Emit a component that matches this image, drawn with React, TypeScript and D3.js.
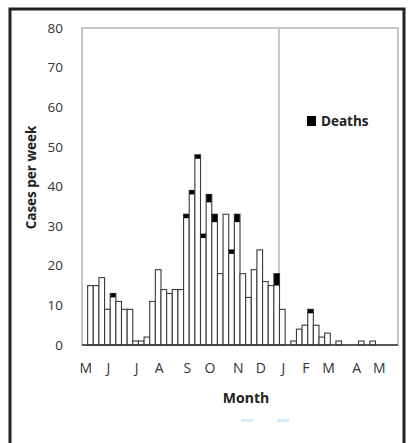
import React from "react";
import * as d3 from "d3";

// weekly totals (cases per week), index 0 = first week of May
const totals = [
  0, 15, 15, 17, 9, 13, 11, 9, 9, 1, 1, 2, 11, 19, 14, 13, 14, 14, 33, 39, 48,
  28, 38, 33, 18, 33, 24, 33, 18, 12, 19, 24, 16, 15, 18, 9, 0, 1, 4, 5, 9, 5,
  2, 3, 0, 1, 0, 0, 0, 1, 0, 1, 0, 0, 0, 0,
];
const deaths = [
  0, 0, 0, 0, 0, 1, 0, 0, 0, 0, 0, 0, 0, 0, 0, 0, 0, 0, 1, 1, 1,
  1, 2, 2, 0, 0, 1, 2, 0, 0, 0, 0, 0, 0, 3, 0, 0, 0, 0, 0, 1, 0,
  0, 0, 0, 0, 0, 0, 0, 0, 0, 0, 0, 0, 0, 0,
];
const monthLabels = ["M", "J", "J", "A", "S", "O", "N", "D", "J", "F", "M", "A", "M"];
const monthWeek = [0, 4, 9, 13, 18, 22, 27, 31, 35, 39, 43, 48, 52];
const yTicks = [0, 10, 20, 30, 40, 50, 60, 70, 80];
const yearBreakWeek = 35;

const W = 409;
const H = 443;
const left = 82;
const right = 398;
const top = 28;
const bottom = 345;
const font = "'Open Sans', Lato, sans-serif";

export default function App() {
  const weeks = d3.range(totals.length);
  const x = d3.scaleBand<number>().domain(weeks).range([left, right]).padding(0);
  const y = d3.scaleLinear().domain([0, 80]).range([bottom, top]);
  const bw = x.bandwidth();

  return (
    <svg
      width={W}
      height={H}
      style={{ position: "absolute", left: 0, top: 0, background: "#fff" }}
      fontFamily={font}
    >
      <rect x={10} y={9} width={394} height={460} fill="none" stroke="#222" strokeWidth={3} />
      {/* plot frame */}
      <rect x={left} y={top} width={right - left} height={bottom - top} fill="none" stroke="#a0a0a0" strokeWidth={1.2} />
      {/* year break line */}
      <line
        x1={x(yearBreakWeek)! - 0.5}
        x2={x(yearBreakWeek)! - 0.5}
        y1={top}
        y2={bottom}
        stroke="#c8c8c8"
        strokeWidth={2}
      />
      {/* bars */}
      {weeks.map((i) =>
        totals[i] > 0 ? (
          <g key={i}>
            <rect
              x={x(i)!}
              y={y(totals[i])}
              width={bw}
              height={y(0) - y(totals[i])}
              fill="#fff"
              stroke="#3a3a3a"
              strokeWidth={1.1}
            />
            {deaths[i] > 0 && (
              <rect
                x={x(i)! + 0.3}
                y={y(totals[i])}
                width={bw - 0.6}
                height={y(totals[i] - deaths[i]) - y(totals[i])}
                fill="#000"
              />
            )}
          </g>
        ) : null
      )}
      {/* baseline */}
      <line x1={left} x2={right} y1={bottom} y2={bottom} stroke="#333" strokeWidth={1.3} />
      {/* y ticks */}
      {yTicks.map((t) => (
        <text key={t} x={63} y={y(t)} dy="0.35em" textAnchor="end" fontSize={13.5} fill="#333">
          {t}
        </text>
      ))}
      {/* x month labels */}
      {monthLabels.map((m, k) => (
        <text
          key={k}
          x={x(monthWeek[k])! + bw / 2 + 1}
          y={368}
          dy="0.35em"
          textAnchor="middle"
          fontSize={14}
          fill="#333"
        >
          {m}
        </text>
      ))}
      {/* axis titles */}
      <text
        transform={`translate(31,${(top + bottom) / 2 - 9}) rotate(-90)`}
        textAnchor="middle"
        dy="0.35em"
        fontSize={13.5}
        fontWeight="bold"
        fill="#222"
      >
        Cases per week
      </text>
      <text x={246} y={398} dy="0.35em" textAnchor="middle" fontSize={14} fontWeight="bold" fill="#222">
        Month
      </text>
      {/* legend */}
      <rect x={307} y={116} width={9} height={10} fill="#000" />
      <text x={321} y={121} dy="0.35em" fontSize={13.5} fontWeight="bold" fill="#222">
        Deaths
      </text>
      {/* faint artifacts below */}
      <rect x={241} y={419} width={12} height={3} fill="#d4ecfa" />
      <rect x={277} y={419} width={12} height={3} fill="#d4ecfa" />
    </svg>
  );
}
